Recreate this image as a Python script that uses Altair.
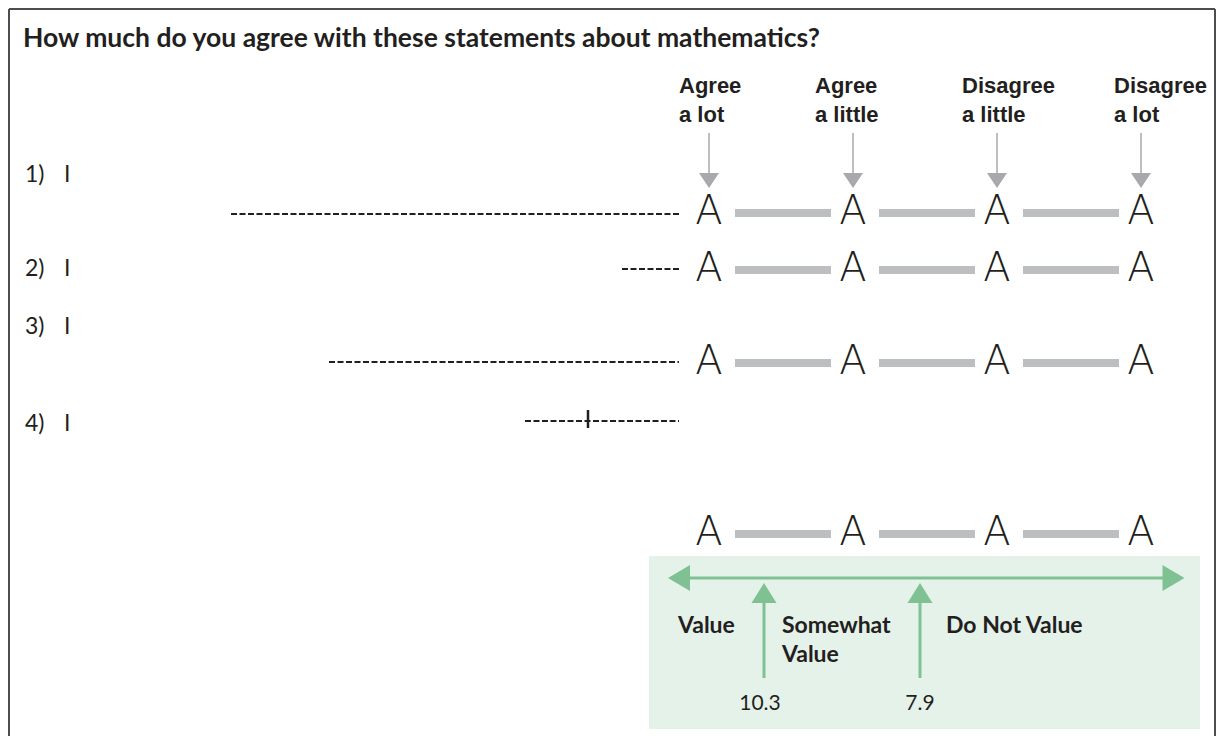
import altair as alt
import pandas as pd

# ---------------- data ----------------
title_text = "How much do you agree with these statements about mathematics?"
responses = ["Agree\na lot", "Agree\na little", "Disagree\na little", "Disagree\na lot"]
questions = ["1)", "2)", "3)", "4)"]
subjects = ["I", "I", "I", "I"]
glyph = "A"
bands = ["Value", "Somewhat\nValue", "Do Not Value"]
cut_scores = [10.3, 7.9]

# ---------------- layout (page pixels) ----------------
resp_x = [709, 853, 997, 1141]
resp_label_x = [679, 815, 962, 1114]
row_y = [211, 268, 361, 532]           # rows carrying response glyphs
q_y = [175, 269, 327, 424]
dash_start = [231, 622, 329, 525]
dash_y = [214, 269, 362, 421]
dash_end = 679
bar_gap = 26

W, H = 1208, 728
xs = alt.Scale(domain=[8, 8 + W], nice=False, zero=False)
ys = alt.Scale(domain=[8 + H, 8], nice=False, zero=False)

BLACK = "#231f20"
GREY_ARROW = "#a7a9ac"
GREY_BAR = "#bcbec0"
GREEN = "#80c194"
GREEN_BG = "#e5f2ea"
FONT_H = "Liberation Sans"
FONT_B = "Lato"
FONT_A = "DejaVu Sans"


def X(f="x"):
    return alt.X(f"{f}:Q", scale=xs, axis=None)


def Y(f="y"):
    return alt.Y(f"{f}:Q", scale=ys, axis=None)


layers = []

# frame
frame = pd.DataFrame({"x": [9, 9, 1215], "x2": [9, 1215, 1215],
                      "y": [9, 9, 9], "y2": [736, 9, 736]})
layers.append(alt.Chart(frame).mark_rule(color="#4d4d4f", strokeWidth=2).encode(
    x=X(), x2="x2:Q", y=Y(), y2="y2:Q"))

# green box
box = pd.DataFrame({"x": [649], "x2": [1200], "y": [556], "y2": [729]})
layers.append(alt.Chart(box).mark_rect(color=GREEN_BG).encode(
    x=X(), x2="x2:Q", y=Y(), y2="y2:Q"))

# title
layers.append(alt.Chart(pd.DataFrame({"t": [title_text], "x": [23], "y": [47]})).mark_text(
    align="left", baseline="alphabetic", font=FONT_B, fontWeight="bold", fontSize=26.5,
    color=BLACK).encode(x=X(), y=Y(), text="t:N"))

# response headers
hdr = pd.DataFrame({"t": responses, "x": resp_label_x, "y": [93] * 4})
layers.append(alt.Chart(hdr).mark_text(
    align="left", baseline="alphabetic", font=FONT_H, fontWeight="bold", fontSize=22,
    lineBreak="\n", lineHeight=29, color=BLACK).encode(x=X(), y=Y(), text="t:N"))

# header arrows
arr = pd.DataFrame({"x": resp_x, "y": [133] * 4, "y2": [175] * 4, "yh": [180.5] * 4})
layers.append(alt.Chart(arr).mark_rule(color=GREY_ARROW, strokeWidth=1.5).encode(
    x=X(), y=Y(), y2="y2:Q"))
layers.append(alt.Chart(arr).mark_point(
    shape="M-1,-0.75L1,-0.75L0,0.75Z", filled=True, size=400, opacity=1,
    color=GREY_ARROW, strokeWidth=0).encode(x=X(), y=Y("yh")))

# question numbers and subjects
qdf = pd.DataFrame({"q": questions, "s": subjects, "y": q_y,
                    "xq": [25] * 4, "xs": [64] * 4})
layers.append(alt.Chart(qdf).mark_text(
    align="left", baseline="middle", font=FONT_B, fontSize=23, color=BLACK).encode(
    x=X("xq"), y=Y(), text="q:N"))
layers.append(alt.Chart(qdf).mark_text(
    align="left", baseline="middle", font=FONT_B, fontSize=23, color=BLACK).encode(
    x=X("xs"), y=Y(), text="s:N"))

# dashed answer lines
ddf = pd.DataFrame({"x": dash_start, "x2": [dash_end] * 4, "y": dash_y})
layers.append(alt.Chart(ddf).mark_rule(color=BLACK, strokeWidth=2, strokeDash=[6, 2.5]).encode(
    x=X(), x2="x2:Q", y=Y()))
cross = pd.DataFrame({"x": [588], "y": [410], "y2": [428]})
layers.append(alt.Chart(cross).mark_rule(color=BLACK, strokeWidth=2.5).encode(
    x=X(), y=Y(), y2="y2:Q"))

# grey connecting bars and A glyphs
bars, glyphs = [], []
for ry in row_y:
    for i in range(3):
        bars.append({"x": resp_x[i] + bar_gap, "x2": resp_x[i + 1] - 22, "y": ry + 2})
    for rx in resp_x:
        glyphs.append({"x": rx, "y": ry + 1, "t": glyph})
layers.append(alt.Chart(pd.DataFrame(bars)).mark_rule(color=GREY_BAR, strokeWidth=8).encode(
    x=X(), x2="x2:Q", y=Y()))
layers.append(alt.Chart(pd.DataFrame(glyphs)).mark_text(
    align="center", baseline="middle", font=FONT_A, fontWeight=200, fontSize=40,
    color=BLACK).encode(x=X(), y=Y(), text="t:N"))

# green double arrow
layers.append(alt.Chart(pd.DataFrame({"x": [684], "x2": [1168], "y": [578]})).mark_rule(
    color=GREEN, strokeWidth=3).encode(x=X(), x2="x2:Q", y=Y()))
heads = pd.DataFrame({"x": [679, 1173.5], "y": [578, 578],
                      "s": ["M-0.846,0L0.846,-1L0.846,1Z", "M0.846,0L-0.846,-1L-0.846,1Z"]})
for _, r in heads.iterrows():
    layers.append(alt.Chart(pd.DataFrame([r])).mark_point(
        shape=r["s"], filled=True, size=676, opacity=1, color=GREEN, strokeWidth=0).encode(
        x=X(), y=Y()))

# cut-score arrows
cdf = pd.DataFrame({"x": [764, 920], "y": [600, 600], "y2": [678, 678], "yh": [593, 593],
                    "xl": [760, 920], "yl": [710, 710], "t": [str(c) for c in cut_scores]})
layers.append(alt.Chart(cdf).mark_rule(color=GREEN, strokeWidth=3).encode(
    x=X(), y=Y(), y2="y2:Q"))
layers.append(alt.Chart(cdf).mark_point(
    shape="M0,-0.8L-1,0.8L1,0.8Z", filled=True, size=625, opacity=1, color=GREEN,
    strokeWidth=0).encode(x=X(), y=Y("yh")))
layers.append(alt.Chart(cdf).mark_text(
    align="center", baseline="alphabetic", font=FONT_B, fontSize=21, color=BLACK).encode(
    x=X("xl"), y=Y("yl"), text="t:N"))

# band labels
bdf = pd.DataFrame({"t": bands, "x": [678, 782, 946], "y": [633] * 3})
layers.append(alt.Chart(bdf).mark_text(
    align="left", baseline="alphabetic", font=FONT_B, fontWeight="bold", fontSize=23,
    lineBreak="\n", lineHeight=29, color=BLACK).encode(x=X(), y=Y(), text="t:N"))

chart = alt.layer(*layers).properties(
    width=W, height=H, padding=0, autosize=alt.AutoSizeParams(type="none")
).configure_view(stroke=None)

chart.save("out.html", embed_options={"renderer": "svg", "actions": False})
